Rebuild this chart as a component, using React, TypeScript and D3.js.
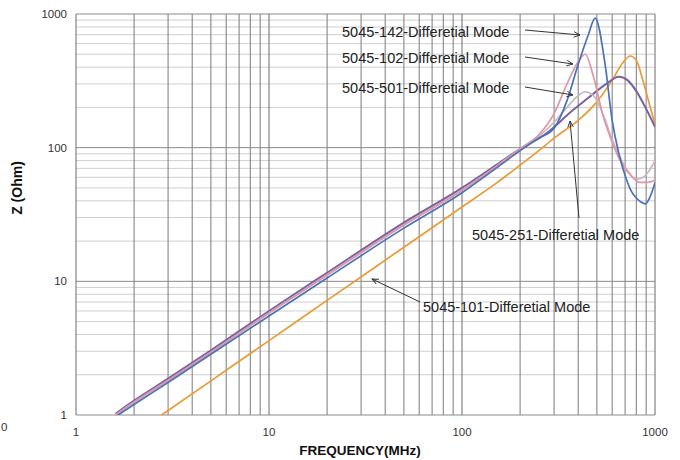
import React from "react";
import * as d3 from "d3";

const xTickLabels = ["1", "10", "100", "1000"];
const yTickLabels = ["1", "10", "100", "1000"];

const freq142 = [1.6, 2, 3, 5, 10, 20, 50, 100, 150, 200, 250, 300, 350, 400, 450, 490, 550, 600, 650, 700, 750, 800, 850, 890, 950, 1000];
const z142 = [0.97, 1.2, 1.75, 2.85, 5.5, 10.6, 25, 46, 70, 95, 118, 140, 225, 420, 690, 930, 430, 160, 90, 62, 48, 42, 39, 38, 44, 55];

const freq102 = [1.6, 2, 3, 5, 10, 20, 50, 100, 150, 200, 250, 300, 350, 400, 435, 480, 540, 600, 660, 750, 830, 900, 1000];
const z102 = [1.0, 1.25, 1.82, 2.95, 5.8, 11.2, 26.5, 48, 72, 98, 125, 180, 300, 440, 500, 340, 170, 110, 80, 62, 55, 55, 57];

const freq501 = [1.6, 2, 3, 5, 10, 20, 50, 100, 150, 200, 250, 300, 350, 400, 435, 480, 540, 600, 700, 800, 870, 950, 1000];
const z501 = [1.0, 1.24, 1.8, 2.93, 5.8, 11.1, 26.3, 48, 72, 98, 122, 155, 200, 245, 262, 245, 175, 115, 72, 58, 60, 70, 80];

const freq251 = [1.6, 2, 3, 5, 10, 20, 50, 100, 150, 200, 274, 376, 450, 550, 650, 720, 800, 900, 1000];
const z251 = [1.02, 1.28, 1.87, 3.05, 6.0, 11.6, 27.5, 50, 74, 98, 128, 191, 235, 295, 340, 320, 265, 195, 143];

const freq101 = [2.5, 3, 5, 10, 20, 50, 100, 150, 200, 250, 300, 400, 500, 600, 680, 745, 800, 870, 950, 1000];
const z101 = [0.9, 1.08, 1.8, 3.6, 7.2, 18, 36, 54, 74, 95, 118, 160, 220, 320, 430, 485, 450, 310, 195, 150];

const seriesNames = ["5045-101", "5045-251", "5045-501", "5045-102", "5045-142"];
const seriesColors = ["#eb9a35", "#7a62a0", "#c9b6c0", "#dd97a6", "#4a72b8"];

const X0 = 76, X1 = 655, Y0 = 415, Y1 = 14;

export default function App() {
  const x = d3.scaleLog().domain([1, 1000]).range([X0, X1]);
  const y = d3.scaleLog().domain([1, 1000]).range([Y0, Y1]);

  const series = [
    { f: freq101, z: z101 },
    { f: freq251, z: z251 },
    { f: freq501, z: z501 },
    { f: freq102, z: z102 },
    { f: freq142, z: z142 },
  ];

  const line = d3
    .line<[number, number]>()
    .x((d) => x(d[0]))
    .y((d) => y(d[1]))
    .curve(d3.curveMonotoneX);

  const minorX: number[] = [];
  const minorY: number[] = [];
  for (const dec of [1, 10, 100]) {
    for (let k = 2; k <= 9; k++) {
      minorX.push(dec * k);
      minorY.push(dec * k);
    }
  }
  const majors = [1, 10, 100, 1000];

  const font = "'Liberation Sans', Arial, sans-serif";

  const annotations = [
    { label: "5045-142-Differetial Mode", tx: 342, ty: 37, ax1: 525, ay1: 30, ax2: 580, ay2: 35 },
    { label: "5045-102-Differetial Mode", tx: 342, ty: 63, ax1: 525, ay1: 57, ax2: 573, ay2: 64 },
    { label: "5045-501-Differetial Mode", tx: 342, ty: 93, ax1: 525, ay1: 87, ax2: 573, ay2: 95 },
    { label: "5045-251-Differetial Mode", tx: 472, ty: 240, ax1: 579, ay1: 218, ax2: 570, ay2: 121 },
    { label: "5045-101-Differetial Mode", tx: 423, ty: 312, ax1: 420, ay1: 302, ax2: 372, ay2: 279 },
  ];

  return (
    <svg
      width={680}
      height={460}
      style={{ position: "absolute", left: 0, top: 0, background: "#fff" }}
      fontFamily={font}
    >
      <defs>
        <clipPath id="plot">
          <rect x={X0} y={Y1} width={X1 - X0} height={Y0 - Y1} />
        </clipPath>
        <marker id="arr" viewBox="0 0 10 10" refX="9" refY="5" markerWidth="7" markerHeight="7" orient="auto">
          <path d="M0,1 L9,5 L0,9" fill="none" stroke="#333" strokeWidth={1.3} />
        </marker>
      </defs>
      <rect x={X0} y={Y1} width={X1 - X0} height={Y0 - Y1} fill="#fff" />
      {minorY.map((v) => (
        <line key={"hy" + v} x1={X0} x2={X1} y1={y(v)} y2={y(v)} stroke="#cfcfcf" strokeWidth={1} />
      ))}
      {minorX.map((v) => (
        <line key={"vx" + v} x1={x(v)} x2={x(v)} y1={Y1} y2={Y0} stroke="#7a7a7a" strokeWidth={1} />
      ))}
      {majors.map((v) => (
        <line key={"hm" + v} x1={X0} x2={X1} y1={y(v)} y2={y(v)} stroke="#8a8a8a" strokeWidth={1} />
      ))}
      {majors.map((v) => (
        <line key={"vm" + v} x1={x(v)} x2={x(v)} y1={Y1} y2={Y0} stroke="#6a6a6a" strokeWidth={1} />
      ))}
      <g clipPath="url(#plot)">
        {series.map((s, i) => (
          <path
            key={seriesNames[i]}
            d={line(s.f.map((f, j) => [f, s.z[j]] as [number, number])) || ""}
            fill="none"
            stroke={seriesColors[i]}
            strokeWidth={i === 1 ? 2 : 1.7}
          />
        ))}
      </g>
      {yTickLabels.map((t) => (
        <text key={"yl" + t} x={67} y={y(+t)} dy="0.35em" textAnchor="end" fontSize={11.5} fill="#333">
          {t}
        </text>
      ))}
      {xTickLabels.map((t) => (
        <text key={"xl" + t} x={x(+t)} y={436} textAnchor="middle" fontSize={11.5} fill="#333">
          {t}
        </text>
      ))}
      <text x={1} y={431} fontSize={11.5} fill="#333">0</text>
      <text x={360} y={455} textAnchor="middle" fontSize={13.5} fontWeight="bold" fill="#111">
        FREQUENCY(MHz)
      </text>
      <text
        transform="translate(22,188) rotate(-90)"
        textAnchor="middle"
        fontSize={14}
        fontWeight="bold"
        fill="#111"
      >
        Z (Ohm)
      </text>
      {annotations.map((a) => (
        <g key={a.label}>
          <line x1={a.ax1} y1={a.ay1} x2={a.ax2} y2={a.ay2} stroke="#333" strokeWidth={1} markerEnd="url(#arr)" />
          <text x={a.tx} y={a.ty} fontSize={14.5} fill="#222">
            {a.label}
          </text>
        </g>
      ))}
    </svg>
  );
}
